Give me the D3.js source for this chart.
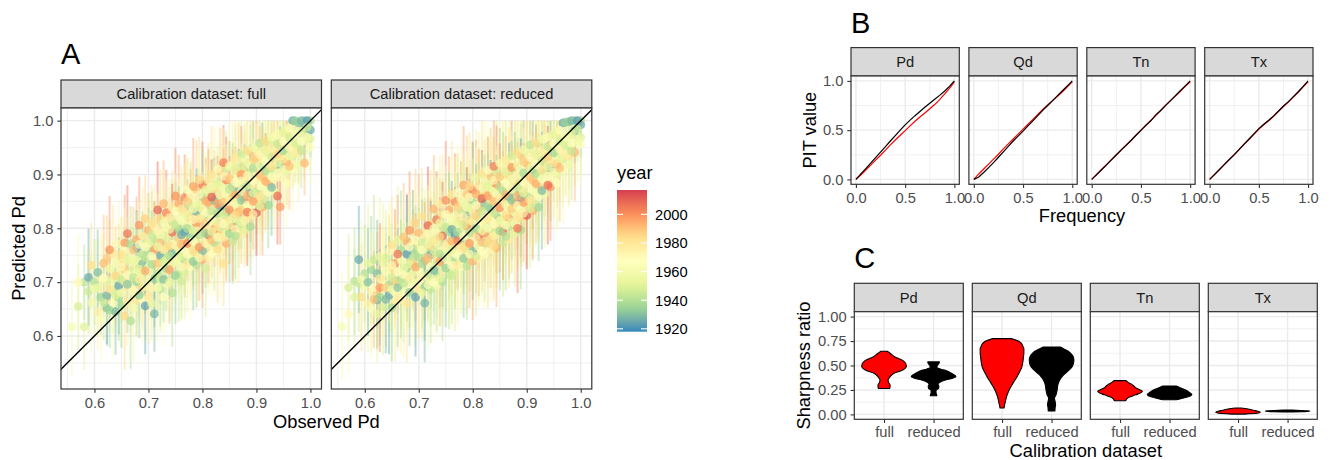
<!DOCTYPE html>
<html><head><meta charset="utf-8">
<script src="https://cdn.jsdelivr.net/npm/d3@7"></script>
<style>body{margin:0;background:#fff}</style>
</head><body><svg id="chart" width="1330" height="460"></svg>
<script>
// ---------------- DATA ----------------
// Panel A: observed Pd columns; nested arrays give each observation's prediction in that column
const observedCols = [0.558,0.581,0.589,0.600,0.612,0.623,0.634,0.645,0.656,0.667,0.678,0.689,0.700,0.711,0.722,0.733,0.744,0.756,0.767,0.778,0.789,0.800,0.811,0.822,0.833,0.844,0.856,0.867,0.878,0.889,0.900,0.911,0.922,0.933,0.944,0.956,0.967,0.978,0.989,1.000,
0.570,0.594,0.606,0.617,0.628,0.639,0.650,0.661,0.672,0.683,0.694,0.706,0.717,0.728,0.739,0.750,0.761,0.772,0.783,0.794,0.806,0.817,0.828,0.839,0.850,0.861,0.872,0.883,0.894,0.906,0.917,0.928,0.939,0.950,0.961,0.972,0.983,0.994];
const predFull = [
[.617],[.617,.700],[.709,.683],[.700,.688],[.672,.631,.707],[.744,.675,.652,.699],[.754,.706,.684,.661],
[.771,.717,.693,.671,.739],[.773,.723,.701,.637,.758],[.771,.746,.721,.689,.628],[.779,.763,.741,.717,.701,.667],
[.786,.752,.734,.712,.690,.668],[.796,.771,.757,.728,.703,.674],[.803,.781,.760,.742,.706,.641],
[.819,.788,.773,.749,.731,.707,.688],[.829,.801,.784,.762,.743,.726,.697],[.838,.812,.793,.771,.755,.733,.680],
[.846,.823,.798,.782,.761,.741,.716],[.857,.829,.814,.792,.779,.758,.741,.721],[.862,.843,.820,.806,.783,.768,.744,.729],
[.873,.848,.831,.809,.795,.772,.754,.732],[.881,.859,.834,.821,.797,.784,.758,.742],[.889,.865,.848,.823,.808,.788,.770,.746],
[.896,.875,.851,.836,.812,.798,.774,.757],[.906,.878,.862,.840,.826,.803,.787,.761],[.911,.890,.866,.853,.830,.814,.791,.772],
[.919,.894,.878,.856,.842,.818,.802,.776],[.927,.906,.882,.868,.845,.830,.806,.788],[.931,.914,.890,.876,.853,.838,.814,.797],
[.942,.918,.902,.880,.865,.842,.827,.803],[.947,.928,.905,.890,.868,.852,.829],[.956,.931,.916,.894,.880,.856,.840],
[.961,.942,.919,.905,.883,.867,.843],[.969,.945,.930,.908,.892,.868],[.974,.957,.933,.919,.895,.840],
[.982,.960,.945,.923,.907,.883],[1.000,.971,.948,.934,.910],[.996,.979,.956,.942,.918],[1.000,.986,.963,.921],[1.000,.983,.966,.951],
[.655,.700],[.662,.731],[.645,.690,.718],[.708,.662,.735],[.725,.688,.648,.760],[.737,.712,.676,.645],
[.752,.728,.705,.680,.658],[.790,.741,.714,.696,.662],[.760,.737,.709,.683,.652],[.806,.770,.724,.705,.676],
[.818,.765,.745,.721,.692,.656],[.810,.788,.748,.733,.689,.660],[.834,.795,.766,.735,.716,.690],[.846,.810,.760,.738,.705,.672],
[.820,.798,.767,.749,.723,.700],[.860,.832,.806,.768,.738,.712],[.836,.815,.788,.770,.748,.728,.702],[.872,.850,.823,.800,.772,.752,.734],
[.878,.836,.816,.795,.776,.757,.738],[.890,.862,.840,.818,.788,.765,.745],[.872,.851,.829,.810,.790,.772,.725],
[.900,.878,.858,.832,.817,.794,.778,.752],[.910,.882,.845,.828,.803,.783,.761],[.922,.897,.873,.848,.826,.808,.783,.735],
[.916,.892,.872,.851,.834,.806,.790],[.932,.911,.886,.862,.848,.825,.798,.786],[.938,.900,.888,.870,.852,.834,.812],
[.945,.922,.898,.880,.862,.843,.820,.830],[.950,.928,.912,.888,.866,.850,.826],[.958,.937,.918,.900,.878,.860,.841],
[.962,.944,.925,.906,.887,.870],[.967,.951,.932,.914,.896,.876],[.975,.957,.938,.922,.902,.860],
[.979,.962,.944,.928,.910],[.986,.968,.950,.934,.915],[1.000,.975,.957,.940],[1.000,.980,.962,.944],[1.000,.988,.969]];
const predReduced = [
[.618],[.672,.702],[.742,.698],[.716,.693],[.723,.651,.682],[.683,.667,.716,.641],[.700,.736,.654,.697],
[.757,.713,.676,.695,.726],[.735,.702,.662,.721,.681],[.760,.741,.700,.668,.706],[.775,.752,.711,.694,.726,.660],
[.771,.745,.761,.716,.735,.690],[.791,.764,.747,.722,.700,.686],[.784,.757,.739,.711,.691,.661],
[.808,.783,.766,.751,.729,.706,.687],[.816,.794,.773,.748,.733,.719,.694],[.826,.802,.786,.759,.744,.721,.701],
[.834,.813,.794,.773,.756,.735,.713],[.849,.824,.807,.787,.771,.754,.739,.719],[.854,.834,.814,.801,.781,.761,.741,.729],
[.863,.839,.823,.804,.789,.767,.751,.730],[.871,.851,.829,.813,.794,.776,.757,.739],[.879,.859,.837,.821,.803,.784,.766,.744],
[.891,.864,.846,.827,.811,.791,.773,.751],[.897,.875,.851,.837,.817,.799,.779,.761],[.906,.881,.863,.844,.826,.805,.789,.764],
[.914,.891,.869,.853,.831,.813,.794,.773],[.923,.897,.879,.859,.841,.819,.803,.779],[.927,.906,.885,.869,.847,.829,.809,.791],
[.936,.911,.895,.875,.857,.835,.819,.797],[.941,.921,.899,.883,.861,.843,.824],[.951,.927,.909,.889,.871,.849,.833],
[.957,.936,.914,.899,.877,.859,.839],[.966,.941,.923,.904,.886,.864],[.971,.951,.929,.913,.891,.877],
[.979,.957,.939,.919,.901,.884],[.996,.966,.944,.929,.909],[.998,.971,.954,.934,.919],[1.000,.981,.959,.941],[1.000,.992,.969,.956],
[.690,.640],[.705,.672],[.660,.735,.700],[.690,.742,.668],[.748,.707,.672,.690],[.721,.690,.745,.668],
[.769,.731,.708,.686,.652],[.752,.778,.719,.690,.672],[.784,.725,.698,.714,.680],[.796,.765,.733,.707,.681],
[.810,.778,.752,.728,.700,.672],[.822,.774,.760,.734,.708,.680],[.805,.790,.770,.745,.716,.695],[.836,.800,.776,.758,.722,.700],
[.845,.810,.784,.752,.738,.707],[.852,.826,.802,.768,.744,.726],[.862,.820,.798,.776,.760,.731,.712],[.866,.840,.812,.793,.777,.750,.732],
[.880,.847,.822,.806,.785,.766,.744],[.878,.858,.838,.815,.792,.772,.752],[.893,.864,.842,.823,.800,.782,.748],
[.902,.875,.855,.832,.812,.795,.774,.758],[.908,.880,.860,.840,.818,.800,.772],[.915,.889,.868,.850,.829,.808,.786,.766],
[.921,.896,.877,.855,.838,.815,.795],[.927,.905,.884,.862,.844,.824,.806,.785],[.935,.913,.892,.872,.852,.836,.812],
[.941,.917,.899,.878,.860,.842,.822,.800],[.946,.924,.903,.886,.866,.848,.828],[.955,.932,.912,.895,.874,.853,.836],
[.959,.938,.919,.901,.883,.866],[.965,.946,.925,.907,.892,.870],[.970,.952,.933,.915,.897,.880],
[.975,.958,.940,.922,.905],[.982,.962,.946,.930,.912],[.997,.970,.952,.936],[1.000,.976,.958,.943],[1.000,.984,.965]];
const yearCols = [
[1962],[1950,1942],[1925,1945],[1940,1958],[1935,1965,1975],[1988,1928,1930,1955],[1980,1955,1948,1966],
[1972,1962,1925,1938,1982],[1998,1990,1978,1985,1968],[1938,1960,1948,1975,1940],[1995,1922,1958,1965,1935,1981],
[1978,1942,1930,1955,1986,1968],[1992,1952,1938,1962,1972,1980],[1975,1945,1997,1960,1933,1928],
[1985,1958,1990,1925,1966,1950,1943],[2003,1970,1955,1982,1947,1937,1962],[1980,1948,2008,1965,1928,1974,1940],
[1995,1963,1935,1987,1952,1970,1944],[2001,1976,1958,1921,1984,1966,1939,1950],[1972,1945,1990,1960,1933,1978,1956,1968],
[1988,1962,1927,1998,1970,1949,1982,1941],[2005,1937,1975,1955,1986,1964,1929,1993],[1979,1953,1995,1942,1967,2010,1958,1974],
[1961,1984,1931,1973,1950,1999,1940,1966],[1990,1957,1976,1923,1963,1944,1987,1970],[1948,2002,1969,1959,1935,1980,1952,1994],
[1977,1962,1939,1991,1968,1954,2007,1945],[1956,1985,1971,1926,1960,1996,1943,1978],[1965,1948,1982,1934,1999,1957,1972,1951],
[1988,1967,1946,1975,1921,1962,1984,1938],[1953,1993,1970,1960,1940,1981,2012],[1974,1958,1930,1988,1965,1947,1995],
[1944,1979,1963,1952,1986,1968,1936],[1966,1957,1990,1942,1973,1959],[1950,1983,1962,1930,1970,1998],
[1977,1961,1945,1995,1955,1968],[1925,1956,1972,1948,1963],[1930,1960,1946,1982,1958],[1938,1928,1957,1992],[1940,1925,1950,1965],
[1948,1970],[1960,1984],[1975,1952,1930],[1968,1944,1991],[1957,1979,1936,1999],[1963,1986,1950,1929],
[1983,1971,1946,1959,1937],[2006,1953,1967,1931,1977],[1990,1956,1943,1970,1961],[1999,1964,1951,1977,1933],
[1987,1969,1941,1995,1958,1924],[1983,1947,1966,1937,1974,1954],[2009,1972,1956,1990,1943,1962],[1993,1961,1979,1949,1930,1968],
[1976,1958,1985,1940,1996,1953],[2000,1967,1944,1975,1957,1934],[1981,1963,1926,1992,1950,1971,1946],[1968,1986,1955,1939,2003,1964,1978],
[1996,1959,1973,1948,1966,1984,1932],[1985,1970,1953,1979,1941,1999,1961],[1957,1994,1966,1987,1935,1975,1948],
[1982,1960,2011,1945,1971,1954,1990,1967],[1969,1952,1997,1938,1980,1963,1985],[2004,1973,1958,1991,1947,1966,1976,1983],
[1962,1989,1943,1977,2000,1956,1936],[1978,1950,1966,1993,1959,1984,1971,1940],[1947,1998,1961,1974,1932,1988,1955],
[1983,1956,1971,1945,1992,1964,1978,2005],[1960,1986,1938,1969,1951,1997,1975],[1942,1972,1957,1990,1964,1980,1949],
[1985,1953,1968,1939,1994,1962],[1958,1976,1946,1983,1963,1929],[1971,1944,1987,1955,1965,2008],
[1952,1968,1937,1981,1959],[1964,1947,1973,1956,1990],[1934,1961,1949,1976],[1928,1953,1967,1944],[1922,1946,1960]];
const halfFull = [
[.09],[.08,.07],[.09,.08],[.08,.09],[.07,.08,.09],[.08,.09,.07,.08],[.09,.07,.08,.10],
[.08,.07,.09,.08,.07],[.09,.08,.07,.10,.08],[.07,.09,.08,.08,.09],[.08,.07,.09,.08,.10,.07],
[.09,.08,.07,.09,.08,.08],[.07,.09,.08,.10,.07,.09],[.08,.07,.09,.08,.09,.07],
[.09,.08,.07,.09,.08,.10,.07],[.08,.09,.08,.07,.09,.08,.08],[.07,.08,.09,.08,.07,.09,.10],
[.09,.07,.08,.09,.08,.07,.09],[.08,.09,.07,.08,.10,.08,.07,.09],[.07,.08,.09,.07,.08,.09,.08,.10],
[.09,.07,.08,.09,.07,.08,.10,.08],[.08,.09,.07,.08,.09,.07,.08,.09],[.07,.08,.10,.08,.07,.09,.08,.07],
[.09,.07,.08,.09,.08,.07,.09,.08],[.08,.09,.07,.08,.10,.08,.07,.09],[.07,.08,.09,.07,.08,.09,.08,.07],
[.09,.07,.08,.09,.07,.08,.10,.08],[.08,.09,.07,.08,.09,.07,.08,.09],[.07,.08,.09,.08,.07,.09,.08,.07],
[.08,.07,.09,.08,.09,.07,.08,.09],[.07,.08,.09,.07,.08,.09,.08],[.08,.07,.08,.09,.07,.08,.09],
[.06,.08,.07,.09,.08,.07,.08],[.07,.06,.08,.07,.09,.08],[.06,.07,.08,.07,.08,.07],
[.06,.07,.06,.08,.07,.08],[.05,.06,.07,.06,.08],[.05,.06,.07,.06,.07],[.05,.06,.07,.06],[.04,.05,.06,.07],
[.08,.09],[.09,.08],[.07,.09,.08],[.08,.07,.09],[.09,.08,.07,.10],[.08,.09,.07,.08],[.07,.09,.08,.10,.08],[.09,.08,.07,.09,.08],
[.08,.07,.09,.08,.10],[.09,.08,.10,.07,.08],[.08,.09,.07,.08,.10,.09],[.07,.08,.09,.10,.08,.07],[.09,.07,.08,.09,.07,.10],
[.08,.10,.07,.09,.08,.09],[.07,.08,.09,.08,.10,.07],[.09,.07,.08,.10,.08,.09],[.08,.09,.07,.08,.09,.10,.07],
[.07,.08,.10,.09,.07,.08,.09],[.09,.07,.08,.10,.08,.07,.09],[.08,.09,.07,.08,.09,.10,.08],[.07,.08,.09,.07,.10,.08,.09],
[.09,.08,.07,.09,.08,.10,.07,.08],[.08,.07,.09,.08,.07,.09,.10],[.07,.09,.08,.10,.07,.08,.09,.08],[.08,.07,.09,.08,.10,.07,.09],
[.09,.08,.07,.09,.08,.07,.10,.08],[.08,.09,.07,.08,.09,.10,.07],[.07,.08,.09,.07,.08,.09,.08,.10],[.08,.07,.09,.08,.07,.09,.08],
[.07,.08,.07,.09,.08,.07,.09],[.06,.07,.08,.07,.09,.08],[.06,.08,.07,.08,.07,.09],[.06,.07,.08,.07,.08,.09],
[.06,.07,.06,.08,.07],[.05,.06,.07,.06,.08],[.05,.06,.07,.06],[.04,.06,.07,.07],[.04,.05,.06]];
const halfReduced = [
[.10],[.09,.10],[.10,.09],[.09,.11],[.10,.09,.11],[.11,.09,.10,.09],[.10,.11,.09,.10],
[.09,.10,.11,.09,.10],[.10,.09,.11,.10,.09],[.11,.10,.09,.10,.11],[.09,.11,.10,.09,.10,.11],
[.10,.09,.11,.10,.09,.10],[.11,.10,.09,.11,.10,.09],[.09,.10,.11,.09,.10,.11],
[.10,.11,.09,.10,.11,.09,.10],[.09,.10,.11,.09,.10,.11,.09],[.11,.09,.10,.11,.09,.10,.11],
[.10,.09,.11,.10,.09,.11,.10],[.09,.11,.10,.09,.11,.10,.09,.11],[.10,.09,.11,.10,.09,.11,.10,.09],
[.11,.10,.09,.11,.10,.09,.11,.10],[.09,.11,.10,.09,.11,.10,.09,.11],[.10,.09,.11,.10,.09,.11,.10,.09],
[.11,.10,.09,.11,.10,.09,.11,.10],[.09,.10,.11,.09,.10,.11,.09,.10],[.10,.11,.09,.10,.11,.09,.10,.11],
[.09,.10,.11,.09,.10,.11,.09,.10],[.10,.09,.11,.10,.09,.11,.10,.09],[.11,.10,.09,.11,.10,.09,.11,.10],
[.09,.11,.10,.09,.11,.10,.09,.11],[.10,.09,.11,.10,.09,.11,.10],[.09,.10,.11,.09,.10,.11,.09],
[.08,.10,.09,.11,.10,.09,.10],[.08,.09,.10,.09,.11,.10],[.07,.08,.09,.10,.09,.10],
[.07,.08,.09,.08,.10,.09],[.06,.07,.08,.09,.10],[.05,.07,.08,.09,.08],[.05,.06,.08,.09],[.04,.06,.07,.08],
[.10,.11],[.11,.10],[.09,.11,.10],[.10,.12,.09],[.11,.10,.09,.12],[.10,.11,.09,.10],[.09,.11,.10,.12,.10],[.11,.10,.09,.11,.10],
[.10,.09,.11,.10,.12],[.11,.10,.12,.09,.10],[.10,.11,.09,.10,.12,.11],[.09,.10,.11,.12,.10,.09],[.11,.09,.10,.11,.09,.12],
[.10,.12,.09,.11,.10,.11],[.09,.10,.11,.10,.12,.09],[.11,.09,.10,.12,.10,.11],[.10,.11,.09,.10,.11,.12,.09],
[.09,.10,.12,.11,.09,.10,.11],[.11,.09,.10,.12,.10,.09,.11],[.10,.11,.09,.10,.11,.12,.10],[.09,.10,.11,.09,.12,.10,.11],
[.11,.10,.09,.11,.10,.12,.09,.10],[.10,.09,.11,.10,.09,.11,.12],[.09,.11,.10,.12,.09,.10,.11,.10],[.10,.09,.11,.10,.12,.09,.11],
[.11,.10,.09,.11,.10,.09,.12,.10],[.10,.11,.09,.10,.11,.12,.09],[.09,.10,.11,.09,.10,.11,.10,.12],[.10,.09,.11,.10,.09,.11,.10],
[.09,.10,.09,.11,.10,.09,.11],[.07,.09,.10,.09,.11,.10],[.07,.10,.09,.10,.09,.11],[.06,.09,.10,.09,.10,.11],
[.06,.08,.09,.10,.09],[.05,.08,.09,.08,.10],[.05,.07,.09,.08],[.04,.07,.08,.09],[.04,.06,.08]];
const facetsA = ["full","reduced"];
const stripLabelsA = ["Calibration dataset: full","Calibration dataset: reduced"];
const ticksA = [0.6,0.7,0.8,0.9,1.0];
const minorA = [0.55,0.65,0.75,0.85,0.95];
const yearDomain = [1918, 2017];
const yearTicks = [1920,1940,1960,1980,2000];
const spectral = ["#3288BD","#99D594","#E6F598","#FFFFBF","#FEE08B","#FC8D59","#D53E4F"];

// Panel B: PIT curves
const variables = ["Pd","Qd","Tn","Tx"];
const frequency = [0,.05,.1,.15,.2,.25,.3,.35,.4,.45,.5,.55,.6,.65,.7,.75,.8,.85,.9,.95,1];
const pitFull = [
[0,.045,.095,.145,.195,.245,.298,.35,.40,.448,.495,.543,.59,.633,.675,.718,.76,.81,.865,.925,.99],
[0,.055,.105,.155,.205,.255,.31,.36,.41,.46,.51,.56,.61,.66,.71,.755,.80,.845,.89,.94,.99],
[0,.05,.10,.15,.20,.248,.298,.35,.398,.45,.50,.55,.60,.648,.698,.75,.80,.845,.895,.945,.99],
[0,.05,.10,.15,.20,.25,.302,.355,.405,.458,.51,.555,.595,.64,.69,.74,.785,.835,.885,.94,.99]];
const pitReduced = [
[0,.055,.11,.165,.22,.277,.333,.39,.445,.50,.553,.602,.647,.69,.732,.773,.813,.853,.895,.945,1],
[0,.025,.07,.12,.17,.225,.28,.335,.39,.44,.49,.543,.595,.648,.70,.75,.80,.85,.90,.95,1],
[0,.048,.098,.148,.198,.25,.30,.345,.395,.448,.498,.548,.595,.655,.70,.752,.80,.85,.90,.95,1],
[0,.048,.10,.152,.202,.252,.305,.358,.41,.462,.515,.56,.60,.645,.695,.745,.79,.84,.89,.945,1]];
const ticksB = [0,0.5,1];
const minorB = [0.25,0.75];

// Panel C: violin outlines (sharpness value, relative half-width)
const datasets = ["full","reduced"];
const violinYFull = [
[0.265,0.28,0.30,0.32,0.35,0.37,0.40,0.42,0.45,0.49,0.52,0.55,0.59,0.62,0.645],
[0.065,0.10,0.14,0.18,0.23,0.28,0.33,0.38,0.43,0.48,0.53,0.585,0.63,0.67,0.70,0.73,0.755,0.775],
[0.14,0.16,0.18,0.20,0.22,0.235,0.25,0.27,0.29,0.31,0.33,0.345],
[0.003,0.012,0.022,0.032,0.042,0.052,0.06,0.066]];
const violinWFull = [
[0.25,0.27,0.27,0.22,0.18,0.22,0.33,0.45,0.80,1.0,0.97,0.85,0.47,0.30,0.15],
[0.09,0.12,0.16,0.2,0.28,0.39,0.52,0.66,0.78,0.88,0.93,0.96,0.98,0.98,0.93,0.85,0.68,0.42],
[0.26,0.3,0.45,0.7,0.92,1.0,0.9,0.72,0.62,0.5,0.35,0.27],
[0.3,0.85,1.0,0.9,0.7,0.5,0.3,0.12]];
const violinYReduced = [
[0.19,0.205,0.225,0.245,0.265,0.285,0.31,0.33,0.35,0.37,0.385,0.40,0.42,0.445,0.465,0.48,0.50,0.52,0.537],
[0.035,0.07,0.10,0.13,0.165,0.20,0.25,0.30,0.35,0.40,0.44,0.48,0.52,0.555,0.59,0.62,0.645,0.67,0.688],
[0.15,0.16,0.175,0.19,0.205,0.22,0.24,0.26,0.275,0.29],
[0.024,0.028,0.032,0.036,0.04,0.044]];
const violinWReduced = [
[0.15,0.13,0.11,0.11,0.22,0.24,0.2,0.3,0.5,0.85,1.0,0.95,0.8,0.58,0.3,0.15,0.17,0.24,0.26],
[0.15,0.16,0.18,0.16,0.13,0.2,0.25,0.28,0.36,0.52,0.72,0.9,0.98,1.0,0.97,0.88,0.75,0.55,0.39],
[0.3,0.5,0.75,0.95,1.0,0.92,0.8,0.62,0.45,0.3],
[0.2,0.7,1.0,0.9,0.6,0.2]];
const ticksC = [0,0.25,0.5,0.75,1];
const minorC = [0.125,0.375,0.625,0.875];

// ---------------- DRAWING ----------------
const FONT = "'Liberation Sans', Arial, Helvetica, sans-serif";
const GRID = "#EBEBEB", BORDER = "#333333", STRIP = "#D9D9D9", TICKTXT = "#4D4D4D";
const svg = d3.select("#chart").style("font-family", FONT);
const defs = svg.append("defs");

function gridLines(g, w, h, xs, ys, xMaj, xMin, yMaj, yMin) {
  g.append("rect").attr("width", w).attr("height", h).attr("fill", "#fff");
  const add = (vals, isX, sw) => vals.forEach(v => {
    const p = isX ? xs(v) : ys(v);
    g.append("line").attr("x1", isX ? p : 0).attr("x2", isX ? p : w)
      .attr("y1", isX ? 0 : p).attr("y2", isX ? h : p)
      .attr("stroke", GRID).attr("stroke-width", sw);
  });
  add(xMin, true, 0.7); add(yMin, false, 0.7);
  add(xMaj, true, 1.4); add(yMaj, false, 1.4);
}
function border(g, w, h) {
  g.append("rect").attr("width", w).attr("height", h).attr("fill", "none")
    .attr("stroke", BORDER).attr("stroke-width", 1.2);
}
function strip(x, y, w, h, label) {
  svg.append("rect").attr("x", x).attr("y", y).attr("width", w).attr("height", h)
    .attr("fill", STRIP).attr("stroke", BORDER).attr("stroke-width", 1.2);
  svg.append("text").attr("x", x + w / 2).attr("y", y + h / 2).attr("dy", "0.36em")
    .attr("text-anchor", "middle").attr("font-size", 14.7).attr("fill", "#1A1A1A").text(label);
}
function styleAxis(a) {
  a.select(".domain").remove();
  a.selectAll(".tick line").attr("stroke", BORDER).attr("stroke-width", 1.1);
  a.selectAll(".tick text").attr("fill", TICKTXT).attr("font-size", 14.7).attr("font-family", FONT);
}
function xAxisAt(x0, y0, scale, vals, fmt, pad) {
  const a = svg.append("g").attr("transform", `translate(${x0},${y0})`)
    .call(d3.axisBottom(scale).tickValues(vals).tickSize(3.7).tickPadding(pad || 4.9).tickFormat(fmt));
  styleAxis(a);
}
function yAxisAt(x0, y0, scale, vals, fmt) {
  const a = svg.append("g").attr("transform", `translate(${x0},${y0})`)
    .call(d3.axisLeft(scale).tickValues(vals).tickSize(3.7).tickPadding(4.0).tickFormat(fmt));
  styleAxis(a);
}
function title(x, y, txt, rot) {
  const t = svg.append("text").attr("font-size", 18.3).attr("fill", "#000").attr("text-anchor", "middle").text(txt);
  if (rot) t.attr("transform", `translate(${x},${y}) rotate(-90)`); else t.attr("x", x).attr("y", y);
}
function tag(x, y, txt) {
  svg.append("text").attr("x", x).attr("y", y).attr("font-size", 29).attr("fill", "#000").text(txt);
}

// ---- Panel A ----
const A = {top: 108, h: 281, w: 260.5, lefts: [61, 331.3], stripTop: 80};
const xA = d3.scaleLinear().domain([0.538, 1.0205]).range([0, A.w]);
const yA = d3.scaleLinear().domain([0.5015, 1.0235]).range([A.h, 0]);
const yearColor = d3.scaleSequential(d3.piecewise(d3.interpolateLab, spectral)).domain(yearDomain);

const points = [];
observedCols.forEach((o, i) => predFull[i].forEach((p, j) => points.push({
  obs: o, full: p, reduced: predReduced[i][j], year: yearCols[i][j],
  hwfull: halfFull[i][j], hwreduced: halfReduced[i][j]})));

defs.append("clipPath").attr("id", "clipA").append("rect").attr("width", A.w).attr("height", A.h);

facetsA.forEach((f, fi) => {
  const x0 = A.lefts[fi];
  strip(x0, A.stripTop, A.w, A.top - A.stripTop, stripLabelsA[fi]);
  const g = svg.append("g").attr("transform", `translate(${x0},${A.top})`);
  gridLines(g, A.w, A.h, xA, yA, ticksA, minorA, ticksA, minorA);
  const d = g.append("g").attr("clip-path", "url(#clipA)");
  d.selectAll("line.rng").data(points).join("line").attr("class", "rng")
    .attr("x1", p => xA(p.obs)).attr("x2", p => xA(p.obs))
    .attr("y1", p => yA(p[f] - p["hw" + f])).attr("y2", p => yA(Math.min(1, p[f] + p["hw" + f])))
    .attr("stroke", p => yearColor(p.year)).attr("stroke-width", 2).attr("stroke-opacity", 0.45);
  d.selectAll("circle").data(points).join("circle")
    .attr("cx", p => xA(p.obs)).attr("cy", p => yA(p[f])).attr("r", 4.4)
    .attr("fill", p => yearColor(p.year)).attr("fill-opacity", 0.72);
  d.append("line").attr("x1", xA(0.5)).attr("y1", yA(0.5)).attr("x2", xA(1.05)).attr("y2", yA(1.05))
    .attr("stroke", "#000").attr("stroke-width", 1.4);
  border(g, A.w, A.h);
  xAxisAt(x0, A.top + A.h, xA, ticksA, d3.format(".1f"));
  if (fi === 0) yAxisAt(x0, A.top, yA, ticksA, d3.format(".1f"));
});
tag(61, 64.3, "A");
title((A.lefts[0] + A.lefts[1] + A.w) / 2, 428, "Observed Pd");
title(25, A.top + A.h / 2, "Predicted Pd", true);

// legend
const L = {x: 617, top: 190, bottom: 331.7, w: 30};
const yL = d3.scaleLinear().domain(yearDomain).range([L.bottom, L.top]);
const grad = defs.append("linearGradient").attr("id", "yearGrad").attr("x1", 0).attr("y1", 1).attr("x2", 0).attr("y2", 0);
d3.range(0, 1.0001, 0.05).forEach(t => {
  const yr = yearDomain[0] + t * (yearDomain[1] - yearDomain[0]);
  grad.append("stop").attr("offset", t).attr("stop-color", yearColor(yr));
});
svg.append("rect").attr("x", L.x).attr("y", L.top).attr("width", L.w).attr("height", L.bottom - L.top).attr("fill", "url(#yearGrad)");
yearTicks.forEach(yr => {
  const yy = yL(yr);
  svg.append("line").attr("x1", L.x).attr("x2", L.x + 6).attr("y1", yy).attr("y2", yy).attr("stroke", "#fff").attr("stroke-width", 1.1);
  svg.append("line").attr("x1", L.x + L.w - 6).attr("x2", L.x + L.w).attr("y1", yy).attr("y2", yy).attr("stroke", "#fff").attr("stroke-width", 1.1);
  svg.append("text").attr("x", 655).attr("y", yy).attr("dy", "0.36em").attr("font-size", 14.7).attr("fill", "#000").text(yr);
});
svg.append("text").attr("x", L.x).attr("y", 179).attr("font-size", 18.3).attr("fill", "#000").text("year");

// ---- Panel B ----
const B = {top: 76, h: 108.3, w: 108.3, lefts: [851, 968.9, 1086.8, 1204.7], stripTop: 47.6};
const xB = d3.scaleLinear().domain([-0.05, 1.05]).range([0, B.w]);
const yB = d3.scaleLinear().domain([-0.05, 1.05]).range([B.h, 0]);
const lineB = d3.line().x((d, i) => xB(frequency[i])).y(d => yB(d));
variables.forEach((v, vi) => {
  const x0 = B.lefts[vi];
  strip(x0, B.stripTop, B.w, B.top - B.stripTop, v);
  const g = svg.append("g").attr("transform", `translate(${x0},${B.top})`);
  gridLines(g, B.w, B.h, xB, yB, ticksB, minorB, ticksB, minorB);
  g.append("path").attr("d", lineB(pitFull[vi])).attr("fill", "none").attr("stroke", "#FF0000").attr("stroke-width", 1.2);
  g.append("path").attr("d", lineB(pitReduced[vi])).attr("fill", "none").attr("stroke", "#000").attr("stroke-width", 1.2);
  border(g, B.w, B.h);
  xAxisAt(x0, B.top + B.h, xB, ticksB, d3.format(".1f"));
  if (vi === 0) yAxisAt(x0, B.top, yB, ticksB, d3.format(".1f"));
});
tag(851, 33, "B");
title((B.lefts[0] + B.lefts[3] + B.w) / 2, 222, "Frequency");
title(816, B.top + B.h / 2, "PIT value", true);

// ---- Panel C ----
const C = {top: 311.7, h: 107.6, w: 109, lefts: [854.3, 972.3, 1090.3, 1208.3], stripTop: 283.3};
const xC = d3.scalePoint().domain(datasets).range([0, C.w]).padding(0.6);
const unitC = xC.step();
const yC = d3.scaleLinear().domain([-0.05, 1.05]).range([C.h, 0]);
function violin(g, center, ys, ws, fill) {
  const pts = ys.map((y, i) => ({y, w: ws[i] * 0.45 * unitC}));
  const area = d3.area().y(d => yC(d.y)).x0(d => center - d.w).x1(d => center + d.w).curve(d3.curveMonotoneY);
  g.append("path").attr("d", area(pts)).attr("fill", fill).attr("stroke", "#000").attr("stroke-width", 1.1).attr("stroke-linejoin", "round");
}
variables.forEach((v, vi) => {
  const x0 = C.lefts[vi];
  strip(x0, C.stripTop, C.w, C.top - C.stripTop, v);
  const g = svg.append("g").attr("transform", `translate(${x0},${C.top})`);
  gridLines(g, C.w, C.h, xC, yC, datasets, [], ticksC, minorC);
  violin(g, xC("full"), violinYFull[vi], violinWFull[vi], "#FF0000");
  violin(g, xC("reduced"), violinYReduced[vi], violinWReduced[vi], "#000");
  border(g, C.w, C.h);
  xAxisAt(x0, C.top + C.h, xC, datasets, d => d, 3.1);
  if (vi === 0) yAxisAt(x0, C.top, yC, ticksC, d3.format(".2f"));
});
tag(854.3, 268, "C");
title((C.lefts[0] + C.lefts[3] + C.w) / 2, 456.5, "Calibration dataset");
title(810, C.top + C.h / 2, "Sharpness ratio", true);
</script>
</body></html>
